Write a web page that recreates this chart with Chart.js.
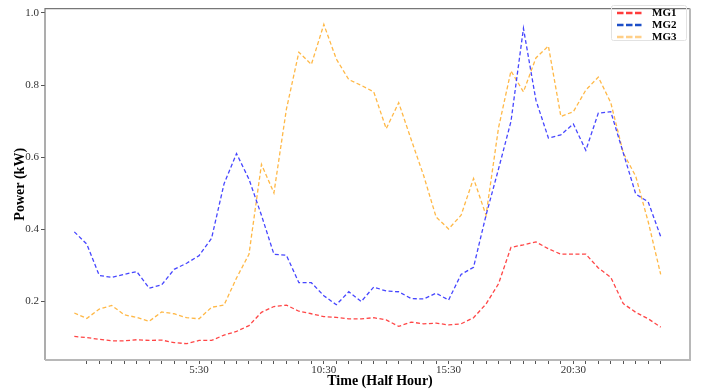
<!DOCTYPE html>
<html>
<head>
<meta charset="utf-8">
<script src="https://cdn.jsdelivr.net/npm/chart.js@4.4.1/dist/chart.umd.min.js"></script>
<style>
  html, body { margin: 0; padding: 0; background: #ffffff; }
  #wrap { width: 702px; height: 391px; position: relative; }
</style>
</head>
<body>
<div id="wrap"><canvas id="c" width="702" height="391"></canvas></div>
<script>
// ---- Data ----
const categories = ['0:30','1:00','1:30','2:00','2:30','3:00','3:30','4:00','4:30','5:00',
  '5:30','6:00','6:30','7:00','7:30','8:00','8:30','9:00','9:30','10:00',
  '10:30','11:00','11:30','12:00','12:30','13:00','13:30','14:00','14:30','15:00',
  '15:30','16:00','16:30','17:00','17:30','18:00','18:30','19:00','19:30','20:00',
  '20:30','21:00','21:30','22:00','22:30','23:00','23:30','24:00'];

const MG1 = [0.103,0.100,0.095,0.091,0.091,0.094,0.092,0.093,0.086,0.083,
  0.092,0.092,0.107,0.117,0.133,0.170,0.186,0.190,0.173,0.166,
  0.158,0.156,0.152,0.152,0.155,0.149,0.131,0.143,0.138,0.140,
  0.135,0.138,0.155,0.193,0.249,0.350,0.357,0.365,0.346,0.331,
  0.331,0.331,0.293,0.267,0.194,0.170,0.152,0.129];

const MG2 = [0.393,0.359,0.272,0.267,0.275,0.283,0.237,0.246,0.289,0.306,
  0.327,0.375,0.526,0.610,0.539,0.439,0.331,0.328,0.252,0.252,
  0.216,0.191,0.227,0.200,0.240,0.229,0.227,0.208,0.207,0.223,
  0.204,0.275,0.295,0.439,0.567,0.699,0.957,0.758,0.653,0.662,
  0.692,0.619,0.722,0.726,0.612,0.498,0.476,0.380];

const MG3 = [0.168,0.153,0.179,0.189,0.163,0.156,0.145,0.171,0.166,0.155,
  0.152,0.184,0.190,0.265,0.331,0.580,0.501,0.733,0.891,0.857,
  0.968,0.872,0.815,0.799,0.781,0.679,0.751,0.649,0.549,0.434,
  0.401,0.439,0.541,0.439,0.681,0.839,0.781,0.875,0.908,0.713,
  0.726,0.786,0.822,0.751,0.612,0.547,0.421,0.275];

const seriesNames = ['MG1','MG2','MG3'];
const xTickLabels = ['5:30','10:30','15:30','20:30'];
const yTickValues = [0.2,0.4,0.6,0.8,1.0];

// ---- Styles ----
const SERIF = '"Liberation Serif", "Times New Roman", "DejaVu Serif", serif';
const lineColors = ['rgba(255,60,60,0.95)','rgba(60,60,255,0.95)','rgba(255,180,60,0.95)'];
const legendColors = ['#ff3b3b','#1d4fc8','#ffcf88'];

const toPoints = arr => arr.map((v,i)=>({x:i, y:v}));
const labelIndex = {};
xTickLabels.forEach(l => { labelIndex[categories.indexOf(l)] = l; });

const decorPlugin = {
  id: 'decor',
  afterDraw(chart) {
    const ctx = chart.ctx;
    const a = chart.chartArea;
    ctx.save();
    // spines
    ctx.strokeStyle = '#777'; ctx.lineWidth = 1.2;
    ctx.beginPath(); ctx.moveTo(a.left, a.bottom); ctx.lineTo(a.left, a.top); ctx.lineTo(a.right, a.top); ctx.stroke();
    ctx.strokeStyle = '#b8b8b8'; ctx.lineWidth = 2;
    ctx.beginPath(); ctx.moveTo(a.left, a.bottom); ctx.lineTo(a.right, a.bottom); ctx.lineTo(a.right, a.top); ctx.stroke();
    // axis titles
    ctx.fillStyle = '#000';
    ctx.font = 'bold 14px ' + SERIF;
    ctx.textAlign = 'center'; ctx.textBaseline = 'middle';
    ctx.fillText('Time (Half Hour)', 380, 381);
    ctx.save();
    ctx.translate(20, (a.top + a.bottom) / 2);
    ctx.rotate(-Math.PI / 2);
    ctx.fillText('Power (kW)', 0, 0);
    ctx.restore();
    // legend
    ctx.strokeStyle = '#e2e2e2'; ctx.lineWidth = 1;
    ctx.beginPath();
    if (ctx.roundRect) ctx.roundRect(611.5, 5.5, 75, 35, 2); else ctx.rect(611.5, 5.5, 75, 35);
    ctx.stroke();
    const ys = [13, 25, 37];
    seriesNames.forEach((n, k) => {
      ctx.strokeStyle = legendColors[k]; ctx.lineWidth = 2.6;
      ctx.setLineDash([6.5, 2.5]);
      ctx.beginPath(); ctx.moveTo(617, ys[k]); ctx.lineTo(643, ys[k]); ctx.stroke();
      ctx.setLineDash([]);
      ctx.fillStyle = '#000';
      ctx.font = 'bold 11px ' + SERIF;
      ctx.textAlign = 'left'; ctx.textBaseline = 'middle';
      ctx.fillText(n, 652, ys[k]);
    });
    ctx.restore();
  }
};

new Chart(document.getElementById('c'), {
  type: 'line',
  data: {
    datasets: [MG1, MG2, MG3].map((arr, k) => ({
      label: seriesNames[k],
      data: toPoints(arr),
      borderColor: lineColors[k],
      borderWidth: 1.3,
      borderDash: [4, 2.5],
      pointRadius: 0,
      fill: false,
      tension: 0
    }))
  },
  options: {
    responsive: false,
    animation: false,
    layout: { padding: { top: 4, right: 12, left: 0, bottom: 0 } },
    plugins: { legend: { display: false }, tooltip: { enabled: false } },
    scales: {
      x: {
        type: 'linear',
        min: -2.35, max: 49.35,
        afterBuildTicks: s => { s.ticks = categories.slice(1).map((c, i) => ({ value: i + 1 })); },
        afterFit: s => { s.height = 31; },
        ticks: {
          autoSkip: false, maxRotation: 0, padding: 0,
          color: '#333', font: { family: SERIF, size: 11 },
          callback: v => labelIndex[v] || ''
        },
        grid: { drawOnChartArea: false, drawTicks: true, tickLength: 4, color: '#555', lineWidth: 1 },
        border: { display: false }
      },
      y: {
        type: 'linear',
        min: 0.0378, max: 1.0118,
        afterBuildTicks: s => { s.ticks = yTickValues.map(v => ({ value: v })); },
        afterFit: s => { s.width = 45; },
        ticks: {
          padding: 2, color: '#333', font: { family: SERIF, size: 11 },
          callback: v => Number(v).toFixed(1)
        },
        grid: { drawOnChartArea: false, drawTicks: true, tickLength: 4, color: '#555', lineWidth: 1 },
        border: { display: false }
      }
    }
  },
  plugins: [decorPlugin]
});
</script>
</body>
</html>
